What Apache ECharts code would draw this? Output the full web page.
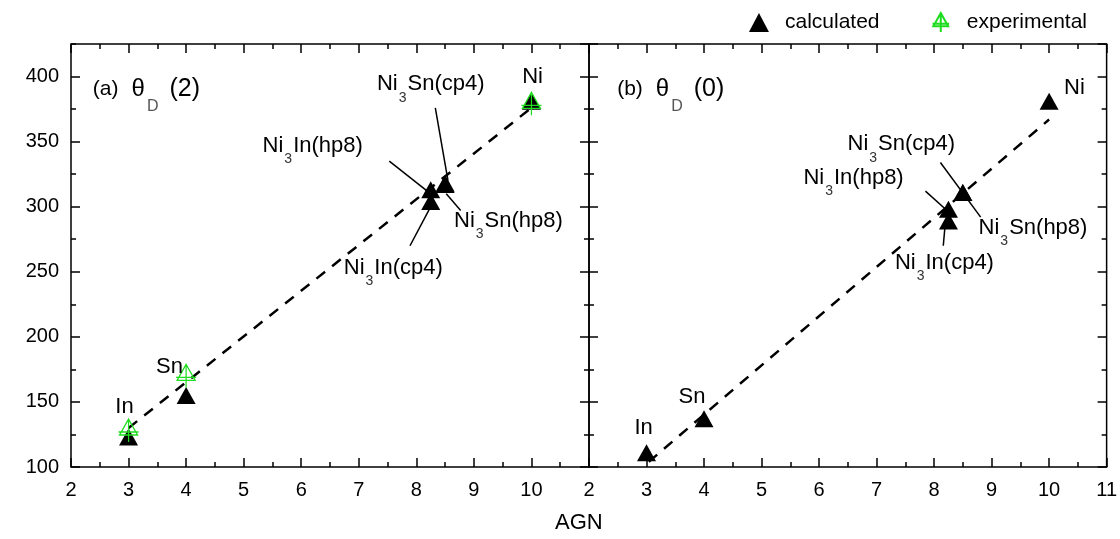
<!DOCTYPE html>
<html>
<head>
<meta charset="utf-8">
<script src="https://cdn.jsdelivr.net/npm/echarts@6/dist/echarts.min.js"></script>
<style>
  html, body { margin: 0; padding: 0; background: #fff; }
  #chart { width: 1120px; height: 539px; }
</style>
</head>
<body>
<div id="chart"></div>
<script>
// AGN values of the compounds (Ni3In = 8.25, Ni3Sn = 8.5)
var names = ['In', 'Sn', 'Ni3In(hp8)', 'Ni3In(cp4)', 'Ni3Sn(cp4)', 'Ni3Sn(hp8)', 'Ni']
var agn = [3, 4, 8.25, 8.25, 8.5, 8.5, 10]

// (a) theta_D(2)
var calcA = [123, 155, 313, 304, 318, 317, 381]
var expAgn = [3, 4, 10]
var expA = [128, 170, 379]
var fitAX = [3, 10]
var fitAY = [130, 376]

// (b) theta_D(0)
var calcB = [111, 137, 298, 289, 311, 311, 381]
var fitBX = [3.04, 10]
var fitBY = [104, 367]

// tick values
var xTicks = [2, 3, 4, 5, 6, 7, 8, 9, 10, 11]
var yTicks = [100, 150, 200, 250, 300, 350, 400]

// annotation labels: text, x, y (data units)
var labelsAText = ['{n|In}', '{n|Sn}', '{n|Ni}', '{n|Ni}{s|3}{n|Sn(cp4)}', '{n|Ni}{s|3}{n|In(hp8)}', '{n|Ni}{s|3}{n|Sn(hp8)}', '{n|Ni}{s|3}{n|In(cp4)}']
var labelsAX = [2.93, 3.71, 10.02, 8.25, 6.2, 9.6, 7.6]
var labelsAY = [146, 177, 400, 394, 347, 289, 253]
var labelsBText = ['{n|In}', '{n|Sn}', '{n|Ni}', '{n|Ni}{s|3}{n|Sn(cp4)}', '{n|Ni}{s|3}{n|In(hp8)}', '{n|Ni}{s|3}{n|Sn(hp8)}', '{n|Ni}{s|3}{n|In(cp4)}']
var labelsBX = [2.95, 3.79, 10.44, 7.43, 6.6, 9.72, 8.18]
var labelsBY = [130, 154, 391, 348, 322, 284, 257]

// leader lines [x1, y1, x2, y2]
var leadersA = [
  [8.33, 376, 8.55, 320],
  [7.53, 335, 8.19, 312],
  [8.52, 310, 8.77, 297],
  [7.89, 270, 8.25, 300]
]
var leadersB = [
  [8.11, 334, 8.81, 292],
  [7.85, 312, 8.2, 298],
  [8.16, 270, 8.2, 290]
]

var FONT = 'Liberation Sans, Arial, sans-serif'

function pts(xs, ys) {
  return xs.map(function(x, i) { return [x, ys[i]] })
}

function labelData(texts, xs, ys) {
  return texts.map(function(t, i) { return { value: [xs[i], ys[i]], text: t } })
}

function leaderData(list) {
  return list.map(function(l) { return { coords: [[l[0], l[1]], [l[2], l[3]]] } })
}

var rich = {
  n: { fontSize: 22, color: '#000', fontFamily: FONT },
  s: { fontSize: 14, color: '#333', fontFamily: FONT, padding: [27, 1, 0, 1] }
}

function xAxes(grid, top, showLabels, hideMax) {
  return {
    gridIndex: grid,
    type: 'value',
    position: top ? 'top' : 'bottom',
    min: 2,
    max: 11,
    interval: 1,
    axisLine: { show: false },
    axisTick: { inside: true, length: 9, lineStyle: { color: '#000', width: 1.5 } },
    minorTick: { show: true, splitNumber: 2, length: 5, lineStyle: { color: '#000', width: 1.5 } },
    splitLine: { show: false },
    axisLabel: {
      show: showLabels,
      showMaxLabel: !hideMax,
      margin: 13,
      fontSize: 20,
      color: '#000',
      fontFamily: FONT
    }
  }
}

function yAxes(grid, right, minor, showLabels) {
  return {
    gridIndex: grid,
    type: 'value',
    position: right ? 'right' : 'left',
    min: 100,
    max: 425,
    interval: minor ? 25 : 50,
    axisLine: { show: false },
    axisTick: { inside: true, length: minor ? 5 : 9, lineStyle: { color: '#000', width: 1.5 } },
    splitLine: { show: false },
    axisLabel: {
      show: showLabels,
      showMaxLabel: false,
      margin: 12,
      fontSize: 20,
      color: '#000',
      fontFamily: FONT
    }
  }
}

var greenSymbol = 'path://M10,0 L19,16 L1,16 Z M10,0 L10,23 M0,13 L20,13'

function panelSeries(xi, yi, calc, fitX, fitY, exp, labels, leaders) {
  var s = [
    {
      type: 'line',
      xAxisIndex: xi,
      yAxisIndex: yi,
      data: pts(fitX, fitY),
      showSymbol: false,
      silent: true,
      lineStyle: { color: '#000', width: 2.5, type: [11, 9] },
      z: 2
    },
    {
      type: 'lines',
      coordinateSystem: 'cartesian2d',
      xAxisIndex: xi,
      yAxisIndex: yi,
      data: leaderData(leaders),
      silent: true,
      lineStyle: { color: '#000', width: 1.5, opacity: 1 },
      z: 3
    },
    {
      name: 'calculated',
      type: 'scatter',
      xAxisIndex: xi,
      yAxisIndex: yi,
      symbol: 'triangle',
      symbolSize: [19, 17],
      itemStyle: { color: '#000', opacity: 1 },
      data: pts(agn, calc),
      z: 4
    },
    {
      type: 'scatter',
      xAxisIndex: xi,
      yAxisIndex: yi,
      symbolSize: 0,
      silent: true,
      itemStyle: { opacity: 1 },
      data: labels,
      label: {
        show: true,
        position: 'inside',
        formatter: function(p) { return p.data.text },
        rich: rich
      },
      z: 6
    }
  ]
  if (exp) {
    s.push({
      name: 'experimental',
      type: 'scatter',
      xAxisIndex: xi,
      yAxisIndex: yi,
      symbol: greenSymbol,
      symbolSize: [20, 23],
      itemStyle: { color: 'rgba(0,0,0,0)', borderColor: '#1edc1e', borderWidth: 1.3, opacity: 1 },
      data: pts(expAgn, exp),
      z: 5
    })
  }
  return s
}

var chart = echarts.init(document.getElementById('chart'))

var titleRich = {
  a: { fontSize: 21, color: '#000', fontFamily: FONT },
  th: { fontSize: 24, color: '#000', fontFamily: FONT, padding: [0, 0, 0, 13] },
  d: { fontSize: 16, color: '#555', fontFamily: FONT, padding: [34, 0, 0, 2] },
  p: { fontSize: 25, color: '#000', fontFamily: FONT, padding: [0, 0, 0, 11] }
}

var series = []
  .concat(panelSeries(0, 0, calcA, fitAX, fitAY, expA, labelData(labelsAText, labelsAX, labelsAY), leadersA))
  .concat(panelSeries(2, 4, calcB, fitBX, fitBY, null, labelData(labelsBText, labelsBX, labelsBY), leadersB))

series.push({
  type: 'scatter',
  xAxisIndex: 0,
  yAxisIndex: 0,
  symbolSize: 0,
  silent: true,
  itemStyle: { opacity: 1 },
  data: [[2.38, 390]],
  label: {
    show: true,
    position: 'inside',
    align: 'left',
    formatter: '{a|(a)}{th|θ}{d|D}{p|(2)}',
    rich: titleRich
  }
})
series.push({
  type: 'scatter',
  xAxisIndex: 2,
  yAxisIndex: 4,
  symbolSize: 0,
  silent: true,
  itemStyle: { opacity: 1 },
  data: [[2.49, 390]],
  label: {
    show: true,
    position: 'inside',
    align: 'left',
    formatter: '{a|(b)}{th|θ}{d|D}{p|(0)}',
    rich: titleRich
  }
})

chart.setOption({
  animation: false,
  backgroundColor: '#fff',
  legend: {
    data: ['calculated', 'experimental'],
    right: 28,
    top: 7,
    itemWidth: 20,
    itemHeight: 19,
    itemGap: 52,
    textStyle: { fontSize: 21, color: '#000', fontFamily: FONT, padding: [0, 0, 0, 11] }
  },
  graphic: [
    {
      type: 'text',
      left: 555,
      top: 512,
      style: { text: 'AGN', fontSize: 22, fill: '#000', fontFamily: FONT }
    }
  ],
  grid: [
    { left: 71, top: 44, width: 518, height: 423, show: true, borderColor: '#000', borderWidth: 1.5 },
    { left: 589, top: 44, width: 518, height: 423, show: true, borderColor: '#000', borderWidth: 1.5 }
  ],
  xAxis: [
    xAxes(0, false, true, true),
    xAxes(0, true, false, false),
    xAxes(1, false, true, false),
    xAxes(1, true, false, false)
  ],
  yAxis: [
    yAxes(0, false, false, true),
    yAxes(0, false, true, false),
    yAxes(0, true, false, false),
    yAxes(0, true, true, false),
    yAxes(1, false, false, false),
    yAxes(1, false, true, false),
    yAxes(1, true, false, false),
    yAxes(1, true, true, false)
  ],
  series: series
})
</script>
</body>
</html>
